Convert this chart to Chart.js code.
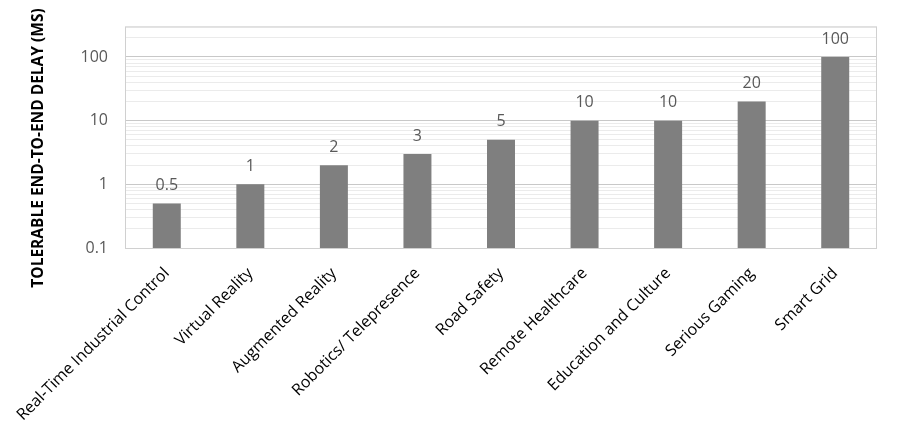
<!DOCTYPE html>
<html>
<head>
<meta charset="utf-8">
<script src="https://cdn.jsdelivr.net/npm/chart.js@4"></script>
<style>
  html, body { margin: 0; padding: 0; background: #fff; }
  #wrap { width: 900px; height: 441px; position: relative; }
</style>
</head>
<body>
<div id="wrap"><canvas id="myChart"></canvas></div>
<script>
const categories = [
  "Real-Time Industrial Control",
  "Virtual Reality",
  "Augmented Reality",
  "Robotics/ Telepresence",
  "Road Safety",
  "Remote Healthcare",
  "Education and Culture",
  "Serious Gaming",
  "Smart Grid",
];
const delays = [0.5, 1, 2, 3, 5, 10, 10, 20, 100];
const majorTicks = [0.1, 1, 10, 100];
const yTitle = "TOLERABLE END-TO-END DELAY (MS)";

// value labels above bars, frame round the plot area, y title
const extras = {
  id: "extras",
  afterDatasetsDraw(chart) {
    const ctx = chart.ctx;
    const meta = chart.getDatasetMeta(0);
    ctx.save();
    ctx.fillStyle = "#595959";
    ctx.font = "16px 'Open Sans'";
    ctx.textAlign = "center";
    ctx.textBaseline = "bottom";
    meta.data.forEach(function (bar, i) {
      ctx.fillText(String(delays[i]), bar.x, bar.y - 10);
    });
    const a = chart.chartArea;
    ctx.strokeStyle = "#d0d0d0";
    ctx.lineWidth = 1;
    ctx.strokeRect(a.left + 0.5, a.top + 0.5, a.right - a.left - 1, a.bottom - a.top);

    ctx.translate(39, 148);
    ctx.rotate(-Math.PI / 2);
    ctx.fillStyle = "#000";
    ctx.font = "bold 15.5px 'Open Sans'";
    ctx.textBaseline = "middle";
    ctx.fillText(yTitle, 0, 0);
    ctx.restore();
  },
};

const data = {
  labels: categories,
  datasets: [
    {
      label: "Tolerable delay",
      backgroundColor: "#7f7f7f",
      data: delays,
      barPercentage: 0.335,
      categoryPercentage: 1,
    },
  ],
};

const config = {
  type: "bar",
  data: data,
  plugins: [extras],
  options: {
    responsive: true,
    maintainAspectRatio: false,
    animation: false,
    layout: {
      padding: { top: 22, right: 23, left: 0, bottom: 0 },
    },
    plugins: {
      legend: { display: false },
      tooltip: { enabled: false },
    },
    scales: {
      x: {
        grid: { display: false },
        border: { display: false },
        ticks: {
          color: "black",
          maxRotation: 45,
          minRotation: 45,
          padding: 8,
          font: { family: "'Open Sans'", size: 16 },
        },
        afterFit: function (scale) {
          scale.height = 193;
        },
      },
      y: {
        type: "logarithmic",
        min: 0.1,
        max: 300,
        border: { display: false },
        grid: {
          drawTicks: false,
          color: function (c) {
            if (c.tick && majorTicks.indexOf(c.tick.value) >= 0) return "#c8c8c8";
            return "#ebebeb";
          },
        },
        afterBuildTicks: function (scale) {
          const t = [];
          [0.1, 1, 10, 100].forEach(function (d) {
            for (let k = 1; k <= 9; k++) {
              const v = Math.round(d * k * 1000) / 1000;
              if (v <= 300) t.push({ value: v });
            }
          });
          scale.ticks = t;
        },
        ticks: {
          color: "#595959",
          padding: 17,
          autoSkip: false,
          font: { family: "'Open Sans'", size: 16 },
          callback: function (v) {
            return majorTicks.indexOf(v) >= 0 ? String(v) : "";
          },
        },
        afterFit: function (scale) {
          scale.width = 125;
        },
      },
    },
  },
};
const myChart = new Chart(document.getElementById("myChart"), config);
</script>
</body>
</html>
